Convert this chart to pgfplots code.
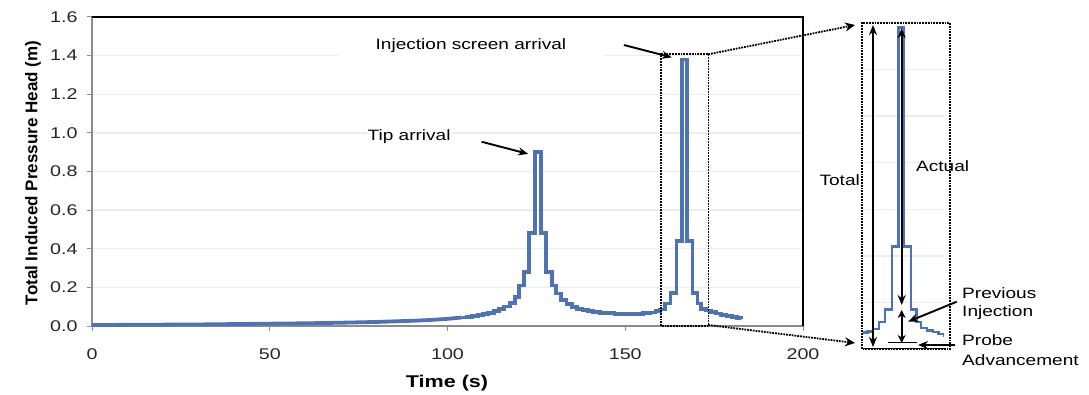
\documentclass[border=0pt]{standalone}
\usepackage{fontspec}
\setmainfont{Liberation Sans}[FakeStretch=1.27]
\newfontfamily\ylabfont{Liberation Sans}
\usepackage{pgfplots}
\usepackage{pgfplotstable}
\pgfplotsset{compat=1.18}
\usetikzlibrary{arrows.meta}
\definecolor{curve}{RGB}{78,114,182}
\definecolor{gridc}{RGB}{236,236,236}
\definecolor{axgray}{RGB}{140,140,140}

% smooth early part of the record
\pgfplotstableread{
t v
0 0.005
10 0.006
20 0.007
30 0.008
40 0.010
50 0.012
60 0.014
70 0.017
80 0.021
90 0.027
95 0.031
100 0.037
104 0.044
}\earlytab

% stepped part (held values, one step each ~1.5 s)
\pgfplotstableread{
t v
104 0.044
105.5 0.048
107 0.052
108.5 0.056
110 0.062
111.5 0.068
113 0.077
114.5 0.087
116 0.101
117.5 0.120
119 0.150
120.1 0.210
121.5 0.280
123.0 0.480
124.6 0.900
126.2 0.480
127.7 0.280
129.3 0.210
130.5 0.168
132 0.135
133.5 0.115
135 0.100
136.5 0.090
138 0.082
139.5 0.076
141 0.072
143 0.068
145 0.066
147 0.064
150 0.063
153 0.064
155 0.066
157 0.070
158.5 0.076
159.8 0.085
161.2 0.117
162.7 0.170
164.4 0.440
165.9 1.380
167.3 0.440
168.9 0.170
170.3 0.117
171.4 0.090
172.8 0.080
174.2 0.072
175.6 0.065
177 0.058
178.5 0.052
180 0.047
181.5 0.043
182.7 0.040
}\steptab

\begin{document}
\begin{tikzpicture}[x=1pt,y=1pt]
\useasboundingbox (0,0) rectangle (1089,394);
\begin{axis}[
  at={(92pt,68pt)}, anchor=south west,
  scale only axis, width=711pt, height=309pt,
  xmin=0, xmax=200, ymin=0, ymax=1.6,
  axis x line*=bottom, axis y line*=left,
  axis line style={-, axgray, line width=1.8pt},
  xtick={0,50,100,150,200},
  ytick={0,0.2,0.4,0.6,0.8,1.0,1.2,1.4,1.6},
  /pgf/number format/fixed, /pgf/number format/fixed zerofill, /pgf/number format/precision=1,
  /pgf/number format/assume math mode=true,
  xticklabel={\pgfmathprintnumber[precision=0,fixed zerofill=false]{\tick}},
  ticklabel style={font=\fontsize{15.5}{18}\selectfont, text=black!85},
  xticklabel style={yshift=-14pt},
  yticklabel style={xshift=-6pt},
  tick align=outside, major tick length=5pt,
  tick style={axgray, line width=1pt},
  ymajorgrids, major grid style={gridc, line width=1.3pt},
  clip=false,
]
\addplot[curve, line width=3.8pt] table[x=t, y=v] {\earlytab};
\addplot[const plot, curve, line width=3.8pt] table[x=t, y=v] {\steptab};
\draw[black, line width=2.5pt] (rel axis cs:0,1) -- (rel axis cs:1,1) -- (rel axis cs:1,0);
% zoom box
\draw[black, densely dotted, line width=1.8pt] (axis cs:160.1,0) rectangle (axis cs:173.4,1.407);
% annotations
\node[fill=white, inner xsep=38pt, inner ysep=3pt, font=\fontsize{15}{18}\selectfont] at (axis cs:106.6,1.45) {Injection screen arrival};
\node[fill=white, inner sep=1pt, font=\fontsize{15}{18}\selectfont] at (axis cs:89.2,0.979) {Tip arrival};
\draw[-{Stealth[length=10pt,width=8pt]}, line width=1.9pt] (axis cs:109.6,0.954) -- (axis cs:122.7,0.891);
\draw[-{Stealth[length=10pt,width=8pt]}, line width=1.9pt] (axis cs:149.6,1.455) -- (axis cs:163.1,1.391);
\end{axis}
% axis titles
\node[font=\fontsize{17}{20}\selectfont\bfseries] at (447,11) {Time (s)};
\node[rotate=90, font=\ylabfont\fontsize{17}{20}\selectfont\bfseries] at (33,221) {Total Induced Pressure Head (m)};
% inset
\begin{axis}[
  at={(863pt,45pt)}, anchor=south west,
  scale only axis, width=81pt, height=326pt,
  xmin=157.4, xmax=176.9, ymin=0, ymax=1.4,
  axis line style={draw=none},
  xtick=\empty, ytick={0.2,0.4,0.6,0.8,1.0,1.2}, yticklabels={},
  major tick length=0pt,
  ymajorgrids, major grid style={gridc, line width=1.3pt},
]
\addplot[const plot, curve, line width=2.5pt] table[x=t, y=v] {\steptab};
\end{axis}
\draw[black, densely dotted, line width=1.8pt] (861.7,45) rectangle (950,371);
\draw[black, line width=1.5pt] (862,45.5) -- (945,45.5);
\draw[{Stealth[length=10pt,width=8pt]}-{Stealth[length=10pt,width=8pt]}, line width=2.4pt] (873,369) -- (873,47);
\draw[{Stealth[length=10pt,width=8pt]}-{Stealth[length=10pt,width=8pt]}, line width=2.4pt] (901.7,366) -- (901.7,89);
\draw[{Stealth[length=8pt,width=8pt]}-{Stealth[length=8pt,width=8pt]}, line width=2.4pt] (901.7,84) -- (901.7,51);
\draw[black, line width=1pt] (888,51.3) -- (916.7,51.3);
\draw[-{Stealth[length=10pt,width=8pt]}, line width=1.9pt] (956.7,92.3) -- (908,72.3);
\draw[-{Stealth[length=10pt,width=8pt]}, line width=1.9pt] (955,49) -- (918,49);
\draw[black, densely dotted, line width=1.8pt, -{Stealth[length=10pt,width=9pt]}] (708.3,339.7) -- (855,369);
\draw[black, densely dotted, line width=1.8pt, -{Stealth[length=10pt,width=9pt]}] (708.3,69) -- (855,51);
\begin{scope}[every node/.style={font=\fontsize{15}{18}\selectfont, inner sep=0pt}]
\node[anchor=east] at (860,214) {Total};
\node[anchor=west] at (916,228) {Actual};
\node[anchor=west] at (962,101) {Previous};
\node[anchor=west] at (962,81) {Injection};
\node[anchor=west] at (962,54) {Probe};
\node[anchor=west] at (962,34) {Advancement};
\end{scope}
\end{tikzpicture}
\end{document}
